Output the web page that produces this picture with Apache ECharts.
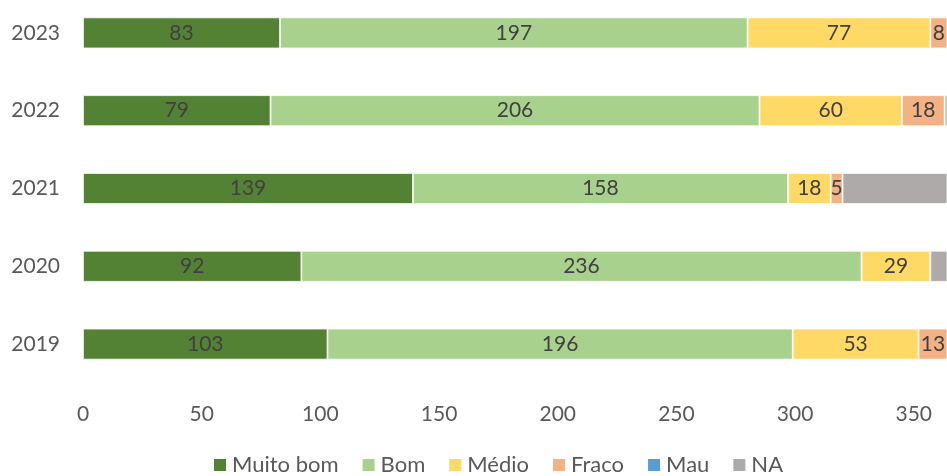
<!DOCTYPE html>
<html>
<head>
<meta charset="utf-8">
<script src="https://cdn.jsdelivr.net/npm/echarts@6/dist/echarts.min.js"></script>
<style>
html,body{margin:0;padding:0;background:#fff;overflow:hidden;width:947px;height:476px;position:relative;}
#chart{position:absolute;left:0;top:-20px;width:947px;height:496px;}
</style>
</head>
<body>
<div id="chart"></div>
<script>
const years = ['2019', '2020', '2021', '2022', '2023'];
const muitoBom = [103, 92, 139, 79, 83];
const bom = [196, 236, 158, 206, 197];
const medio = [53, 29, 18, 60, 77];
const fraco = [13, 0, 5, 18, 8];
const mau = [0, 0, 0, 0, 0];
const na = [0, 8, 60, 2, 0];
const seriesNames = ['Muito bom', 'Bom', 'Médio', 'Fraco', 'Mau', 'NA'];
const seriesColors = ['#548235', '#A9D18E', '#FFD966', '#F4B183', '#5B9BD5', '#AEAAAA'];
const xTicks = [0, 50, 100, 150, 200, 250, 300, 350];

const FONT = 'Lato';
const dataSets = [muitoBom, bom, medio, fraco, mau, na];
const showLabel = [true, true, true, true, false, false];

const chart = echarts.init(document.getElementById('chart'), null, {renderer: 'canvas'});
chart.setOption({
  animation: false,
  textStyle: {fontFamily: FONT},
  grid: {left: 83, right: 0, top: 14, bottom: 93, containLabel: false},
  legend: {
    data: seriesNames,
    left: 207,
    top: 469,
    itemWidth: 14,
    itemHeight: 14,
    itemGap: 22,
    icon: 'rect',
    textStyle: {fontFamily: FONT, fontSize: 22, color: '#595959'}
  },
  xAxis: {
    type: 'value',
    min: 0,
    max: 364,
    interval: 50,
    axisLine: {show: false},
    axisTick: {show: false},
    splitLine: {show: false},
    axisLabel: {
      fontFamily: FONT, fontSize: 21, color: '#595959', margin: 21,
      showMaxLabel: false,
      formatter: function (v) { return xTicks.indexOf(v) >= 0 ? String(v) : ''; }
    }
  },
  yAxis: {
    type: 'category',
    data: years,
    axisLine: {show: false},
    axisTick: {show: false},
    axisLabel: {fontFamily: FONT, fontSize: 21, color: '#595959', margin: 23}
  },
  series: seriesNames.map(function (name, i) {
    return {
      name: name,
      type: 'bar',
      stack: 'total',
      barWidth: 31,
      clip: true,
      itemStyle: {color: seriesColors[i], borderColor: '#ffffff', borderWidth: 0.8},
      label: {
        show: showLabel[i],
        position: 'inside',
        fontFamily: FONT,
        fontSize: 21,
        color: '#404040',
        formatter: function (p) { return p.value ? String(p.value) : ''; }
      },
      data: dataSets[i]
    };
  })
});
</script>
</body>
</html>
